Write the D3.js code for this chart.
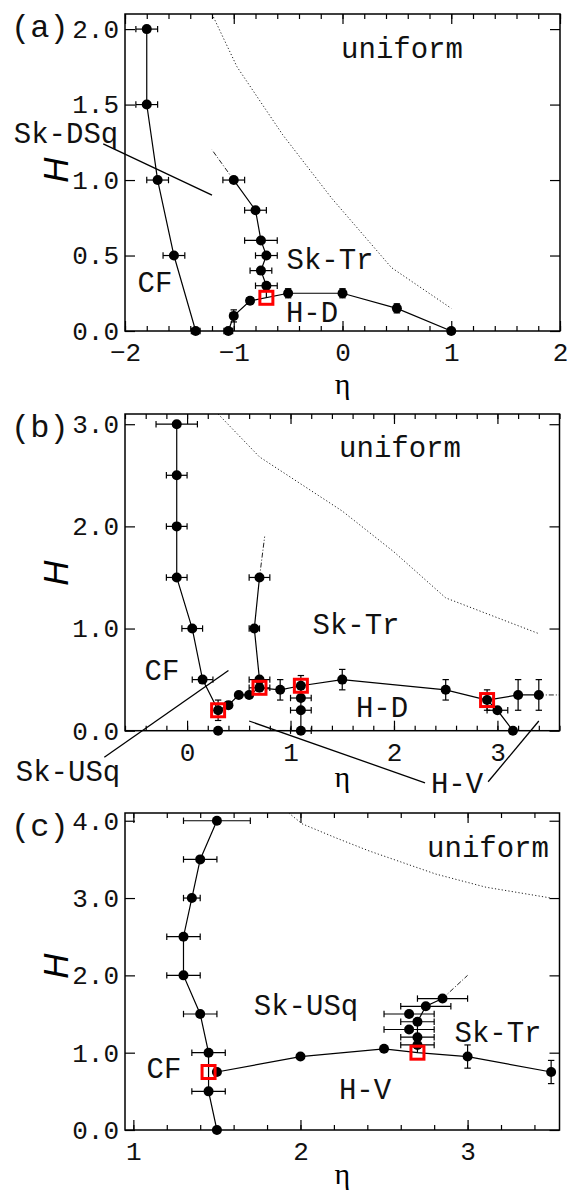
<!DOCTYPE html>
<html>
<head>
<meta charset="utf-8">
<script src="https://cdn.jsdelivr.net/npm/d3@7"></script>
<style>
  body { margin: 0; background: #fff; }
</style>
</head>
<body>
<div id="fig"></div>
<script>
(function (d3) {
	'use strict';

	// rows: [eta, H, dEta, dH]; a row with only [eta, H] is a line vertex without a dot

	// panel (a)
	var aCF = [[-1.8, 2.0, 0.1, 0], [-1.8, 1.5, 0.1, 0], [-1.7, 1.0, 0.1, 0], [-1.55, 0.5, 0.1, 0], [-1.35, 0, 0.04, 0]];
	var aSkTr = [[-1.0, 1.0, 0.1, 0], [-0.8, 0.8, 0.1, 0], [-0.75, 0.6, 0.15, 0], [-0.7, 0.5, 0.1, 0],
	             [-0.75, 0.4, 0.1, 0], [-0.7, 0.3, 0.1, 0], [-0.7, 0.22]];
	var aHD = [[-1.05, 0, 0.04, 0], [-1.0, 0.1, 0, 0.04], [-0.85, 0.2, 0.03, 0], [-0.5, 0.25, 0, 0.03],
	           [0, 0.25, 0, 0.03], [0.5, 0.15, 0, 0.03], [1.0, 0, 0.03, 0]];
	var aSquares = [[-0.7, 0.22]];
	var aUniform = [[-1.2, 2.1], [-0.97, 1.75], [-0.55, 1.3], [-0.1, 0.88], [0.45, 0.42], [1.0, 0.15]];
	var aDashDot = [[[-1.0, 1.0], [-1.2, 1.2]]];
	var aPointers = [[[-2.2, 1.24], [-1.2, 0.9]]];

	// panel (b)
	var bCF = [[-0.1, 3.0, 0.2, 0], [-0.1, 2.5, 0.1, 0], [-0.1, 2.0, 0.1, 0], [-0.1, 1.5, 0.1, 0],
	           [0.05, 1.0, 0.1, 0], [0.15, 0.5, 0.1, 0], [0.3, 0.2, 0, 0.1]];
	var bSkTr = [[0.7, 0.42], [0.7, 0.5, 0.1, 0], [0.65, 1.0, 0.05, 0], [0.7, 1.5, 0.1, 0]];
	var bHD = [[0.3, 0.2], [0.4, 0.25, 0.03, 0.03], [0.5, 0.35, 0, 0], [0.6, 0.35, 0, 0], [0.7, 0.42, 0.1, 0],
	           [0.9, 0.4, 0, 0.1], [1.1, 0.44, 0, 0.1], [1.5, 0.5, 0, 0.1], [2.5, 0.4, 0, 0.1],
	           [2.9, 0.3, 0, 0.1], [3.2, 0.35, 0, 0.15], [3.4, 0.35, 0, 0.15]];
	var bMid = [[1.1, 0.44], [1.1, 0.32, 0.1, 0], [1.1, 0.2, 0.1, 0], [1.1, 0, 0.1, 0]];
	var bHV = [[2.9, 0.3], [3.0, 0.2, 0.1, 0], [3.15, 0, 0, 0]];
	var bOther = [[0.3, 0, 0, 0]];
	var bSquares = [[0.3, 0.2], [0.7, 0.42], [1.1, 0.44], [2.9, 0.3]];
	var bUniform = [[0.3, 3.1], [0.7, 2.68], [1.5, 2.15], [2.0, 1.75], [2.5, 1.3], [3.4, 0.95]];
	var bDashDot = [[[0.7, 1.5], [0.75, 1.9]], [[3.4, 0.35], [3.6, 0.35]]];
	var bPointers = [[[-0.8, -0.26], [0.4, 0.59]], [[0.6, 0.095], [2.3, -0.51]], [[2.91, -0.5], [3.4, 0.095]]];

	// panel (c)
	var cCF = [[1.5, 4.0, 0.2, 0], [1.4, 3.5, 0.1, 0], [1.35, 3.0, 0.05, 0], [1.3, 2.5, 0.1, 0], [1.3, 2.0, 0.1, 0],
	           [1.4, 1.5, 0.1, 0], [1.45, 1.0, 0.1, 0], [1.45, 0.5, 0.1, 0], [1.5, 0, 0, 0]];
	var cHV = [[1.5, 0.75, 0, 0], [2.0, 0.95, 0, 0], [2.5, 1.05, 0, 0], [2.7, 1.0], [3.0, 0.95, 0, 0.15], [3.5, 0.75, 0, 0.15]];
	var cSkTr = [[2.7, 1.0], [2.7, 1.1, 0.1, 0], [2.7, 1.2, 0.1, 0], [2.7, 1.4, 0.1, 0], [2.75, 1.6, 0.15, 0], [2.85, 1.7, 0.15, 0]];
	var cOther = [[2.65, 1.5, 0.15, 0], [2.65, 1.3, 0.15, 0]];
	var cSquares = [[1.45, 0.75], [2.7, 1.0]];
	var cUniform = [[1.93, 4.1], [2.01, 3.96], [2.21, 3.78], [2.41, 3.61], [2.81, 3.31], [3.11, 3.14], [3.5, 3.0]];
	var cDashDot = [[[2.85, 1.7], [3.0, 2.0]]];

	var width = 570,
	    height = 1193,
	    mono = "'Liberation Mono', 'DejaVu Sans Mono', monospace";

	var svg = d3.select('#fig').append('svg')
	    .attr('width', width)
	    .attr('height', height);

	var panels = [
		{
			id: 'a', tag: '(a)', left: 125, right: 560, top: 14, bottom: 331,
			xDomain: [-2, 2], yDomain: [0, 2.1],
			xMajor: d3.range(-2, 2.01, 1), xMinor: d3.range(-2, 2.01, 0.2),
			yMajor: d3.range(0, 2.01, 0.5),
			series: [aCF, aSkTr, aHD], others: [], squares: aSquares,
			uniform: aUniform, dashdot: aDashDot, pointers: aPointers,
			labels: [['uniform', 402, 49], ['Sk-Tr', 330, 260], ['H-D', 312, 313], ['CF', 155, 283], ['Sk-DSq', 66, 134]],
			hY: 170, etaY: 389
		},
		{
			id: 'b', tag: '(b)', left: 125, right: 559.5, top: 414, bottom: 730.7,
			xDomain: [-0.6, 3.6], yDomain: [0, 3.1],
			xMajor: d3.range(0, 3.01, 1), xMinor: d3.range(-0.6, 3.61, 0.2),
			yMajor: d3.range(0, 3.01, 1),
			series: [bCF, bSkTr, bHD, bMid, bHV], others: bOther, squares: bSquares,
			uniform: bUniform, dashdot: bDashDot, pointers: bPointers,
			labels: [['uniform', 400, 448], ['Sk-Tr', 356, 625], ['H-D', 382, 708], ['CF', 162, 671],
			         ['Sk-USq', 68, 772], ['H-V', 457, 784]],
			hY: 573, etaY: 782
		},
		{
			id: 'c', tag: '(c)', left: 125, right: 559.5, top: 813, bottom: 1130,
			xDomain: [0.95, 3.55], yDomain: [0, 4.1],
			xMajor: d3.range(1, 3.01, 1), xMinor: d3.range(1, 3.41, 0.2),
			yMajor: d3.range(0, 4.01, 1),
			series: [cCF, cHV, cSkTr], others: cOther, squares: cSquares,
			uniform: cUniform, dashdot: cDashDot, pointers: [],
			labels: [['uniform', 488, 848], ['Sk-USq', 306, 1006], ['Sk-Tr', 498, 1033], ['H-V', 365, 1090], ['CF', 164, 1069]],
			hY: 966, etaY: 1179
		}
	];

	function drawPanel(p) {
		var x = d3.scaleLinear().domain(p.xDomain).range([p.left, p.right]),
		    y = d3.scaleLinear().domain(p.yDomain).range([p.bottom, p.top]),
		    line = d3.line().x(function (d) { return x(d[0]); }).y(function (d) { return y(d[1]); });

		var g = svg.append('g').attr('class', 'panel-' + p.id);

		g.append('clipPath').attr('id', 'clip-' + p.id)
		  .append('rect')
		    .attr('x', p.left).attr('y', p.top)
		    .attr('width', p.right - p.left).attr('height', p.bottom - p.top);

		var inner = g.append('g').attr('clip-path', 'url(#clip-' + p.id + ')');

		// dotted boundary of the uniform phase
		inner.append('path')
		    .attr('d', line(p.uniform))
		    .attr('fill', 'none')
		    .attr('stroke', '#222')
		    .attr('stroke-width', 1)
		    .attr('stroke-dasharray', '1.2,2.2');

		inner.selectAll('path.dashdot').data(p.dashdot).enter()
		  .append('path')
		    .attr('class', 'dashdot')
		    .attr('d', line)
		    .attr('fill', 'none')
		    .attr('stroke', '#222')
		    .attr('stroke-width', 1)
		    .attr('stroke-dasharray', '5,2,1,2');

		// pointer lines run outside the frame, so no clip
		g.selectAll('path.pointer').data(p.pointers).enter()
		  .append('path')
		    .attr('class', 'pointer')
		    .attr('d', line)
		    .attr('fill', 'none')
		    .attr('stroke', '#000')
		    .attr('stroke-width', 1.3);

		inner.selectAll('path.boundary').data(p.series).enter()
		  .append('path')
		    .attr('class', 'boundary')
		    .attr('d', line)
		    .attr('fill', 'none')
		    .attr('stroke', '#000')
		    .attr('stroke-width', 1.2);

		var pts = [];
		p.series.concat([p.others]).forEach(function (s) {
			s.forEach(function (d) { if (d.length > 2) pts.push(d); });
		});

		var cap = 3.2;
		var err = g.append('g').attr('stroke', '#000').attr('stroke-width', 1.2);
		pts.forEach(function (d) {
			var cx = x(d[0]), cy = y(d[1]);
			if (d[2] > 0) {
				var x0 = x(d[0] - d[2]), x1 = x(d[0] + d[2]);
				err.append('line').attr('x1', x0).attr('x2', x1).attr('y1', cy).attr('y2', cy);
				err.append('line').attr('x1', x0).attr('x2', x0).attr('y1', cy - cap).attr('y2', cy + cap);
				err.append('line').attr('x1', x1).attr('x2', x1).attr('y1', cy - cap).attr('y2', cy + cap);
			}
			if (d[3] > 0) {
				var y0 = y(d[1] - d[3]), y1 = y(d[1] + d[3]);
				err.append('line').attr('x1', cx).attr('x2', cx).attr('y1', y0).attr('y2', y1);
				err.append('line').attr('x1', cx - cap).attr('x2', cx + cap).attr('y1', y0).attr('y2', y0);
				err.append('line').attr('x1', cx - cap).attr('x2', cx + cap).attr('y1', y1).attr('y2', y1);
			}
		});

		g.selectAll('circle.pt').data(pts).enter()
		  .append('circle')
		    .attr('class', 'pt')
		    .attr('cx', function (d) { return x(d[0]); })
		    .attr('cy', function (d) { return y(d[1]); })
		    .attr('r', 5)
		    .attr('fill', '#000');

		g.selectAll('rect.sq').data(p.squares).enter()
		  .append('rect')
		    .attr('class', 'sq')
		    .attr('x', function (d) { return x(d[0]) - 6.5; })
		    .attr('y', function (d) { return y(d[1]) - 6.5; })
		    .attr('width', 13)
		    .attr('height', 13)
		    .attr('fill', 'none')
		    .attr('stroke', '#ff0000')
		    .attr('stroke-width', 3);

		// axes, ticks pointing inward
		function tidy(sel) {
			sel.select('.domain').remove();
			sel.selectAll('.tick line').attr('stroke', '#000').attr('stroke-width', 1.2);
			sel.selectAll('.tick text').attr('font-family', mono).attr('font-size', 26).attr('fill', '#111');
		}
		g.append('g').attr('transform', 'translate(0,' + p.bottom + ')')
		    .call(d3.axisBottom(x).tickValues(p.xMinor).tickSize(-5).tickFormat('')).call(tidy);
		g.append('g').attr('transform', 'translate(0,' + p.bottom + ')')
		    .call(d3.axisBottom(x).tickValues(p.xMajor).tickSize(-10).tickPadding(12).tickFormat(d3.format('d'))).call(tidy);
		g.append('g').attr('transform', 'translate(0,' + p.top + ')')
		    .call(d3.axisTop(x).tickValues(p.xMinor).tickSize(-5).tickFormat('')).call(tidy);
		g.append('g').attr('transform', 'translate(0,' + p.top + ')')
		    .call(d3.axisTop(x).tickValues(p.xMajor).tickSize(-10).tickFormat('')).call(tidy);
		g.append('g').attr('transform', 'translate(' + p.left + ',0)')
		    .call(d3.axisLeft(y).tickValues(p.yMajor).tickSize(-10).tickPadding(6).tickFormat(d3.format('.1f'))).call(tidy);
		g.append('g').attr('transform', 'translate(' + p.right + ',0)')
		    .call(d3.axisRight(y).tickValues(p.yMajor).tickSize(-10).tickFormat('')).call(tidy);

		g.append('rect')
		    .attr('x', p.left).attr('y', p.top)
		    .attr('width', p.right - p.left).attr('height', p.bottom - p.top)
		    .attr('fill', 'none')
		    .attr('stroke', '#000')
		    .attr('stroke-width', 1.5);

		g.selectAll('text.region').data(p.labels).enter()
		  .append('text')
		    .attr('class', 'region')
		    .attr('x', function (d) { return d[1]; })
		    .attr('y', function (d) { return d[2]; })
		    .attr('dy', '0.3em')
		    .attr('text-anchor', 'middle')
		    .attr('font-family', mono)
		    .attr('font-size', 29)
		    .attr('fill', '#111')
		    .text(function (d) { return d[0]; });

		g.append('text')
		    .attr('x', 11)
		    .attr('y', p.top + 12)
		    .attr('dy', '0.35em')
		    .attr('font-family', mono)
		    .attr('font-size', 32)
		    .attr('fill', '#111')
		    .text(p.tag);

		g.append('text')
		    .attr('transform', 'translate(56,' + p.hY + ') rotate(-90)')
		    .attr('dy', '0.35em')
		    .attr('text-anchor', 'middle')
		    .attr('font-family', "'Liberation Sans', Arial, sans-serif")
		    .attr('font-style', 'italic')
		    .attr('font-size', 35)
		    .attr('fill', '#000')
		    .text('H');

		g.append('text')
		    .attr('x', (p.left + p.right) / 2)
		    .attr('y', p.etaY)
		    .attr('dy', '0.15em')
		    .attr('text-anchor', 'middle')
		    .attr('font-family', "'Liberation Serif', 'DejaVu Serif', serif")
		    .attr('font-size', 30)
		    .attr('fill', '#000')
		    .text('η');
	}

	panels.forEach(drawPanel);
})(d3);
</script>
</body>
</html>
